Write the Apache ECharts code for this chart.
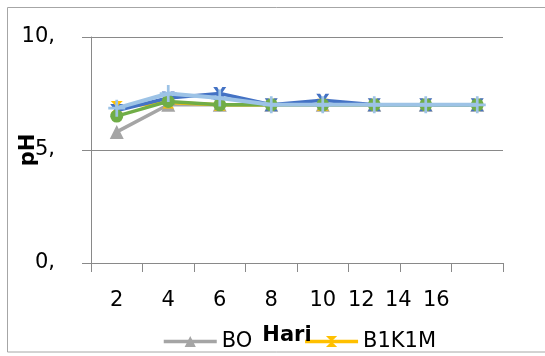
<!DOCTYPE html>
<html><head><meta charset="utf-8">
<script src="https://cdn.jsdelivr.net/npm/echarts@6/dist/echarts.min.js"></script>
<style>html,body{margin:0;padding:0;background:#fff;}#c{width:545px;height:356px;}</style>
</head><body><div id="c"></div>
<script>
const categories = ['2','4','6','8','10','12','14','16'];
const labelShift = [0,0,0,0,0,26,55,82];
const seriesNames = ['BO','B1K1M','B1K2M','B2K1M','B2K2M'];
const BO     = [5.8, 7.0, 7.0, 7.0, 7.0, 7.0, 7.0, 7.0];
const B1K1M  = [6.9, 7.1, 7.0, 7.0, 7.0, 7.0, 7.0, 7.0];
const B1K2M  = [6.75, 7.3, 7.5, 7.0, 7.2, 7.0, 7.0, 7.0];
const B2K1M  = [6.5, 7.15, 7.0, 7.0, 7.0, 7.0, 7.0, 7.0];
const B2K2M  = [6.85, 7.5, 7.3, 7.0, 7.0, 7.0, 7.0, 7.0];
const yTicks = [0, 5, 10];

const FONT = 'DejaVu Sans';
const hourglass = 'path://M0,0 L10,0 L5,5 L10,10 L0,10 L5,5 Z';
const xMark = 'path://M0,0 L3,0 L5,3.5 L7,0 L10,0 L6.5,5 L10,10 L7,10 L5,6.5 L3,10 L0,10 L3.5,5 Z';
const plus = 'path://M4.2,0 L5.8,0 L5.8,4.2 L10,4.2 L10,5.8 L5.8,5.8 L5.8,10 L4.2,10 L4.2,5.8 L0,5.8 L0,4.2 L4.2,4.2 Z';

function mk(name, data, color, symbol, size, width, z) {
  return { name, type: 'line', data, symbol, symbolSize: size, z,
    lineStyle: { color, width }, itemStyle: { color }, showSymbol: true, animation: false };
}

const chart = echarts.init(document.getElementById('c'), null, { renderer: 'canvas' });
chart.setOption({
  animation: false,
  graphic: [{ type: 'rect', shape: { x: 7.5, y: 7.5, width: 600, height: 344.5 },
    style: { fill: 'none', stroke: '#a6a6a6', lineWidth: 1 }, z: -1 }],
  grid: { left: 91, right: 42, top: 37, bottom: 93, containLabel: false, outerBoundsMode: 'none' },
  legend: {
    data: ['BO', 'B1K1M'], top: 326, left: 157, itemGap: 51, itemWidth: 53, itemHeight: 14,
    lineStyle: { width: 3.5 },
    textStyle: { fontFamily: FONT, fontSize: 21, color: '#000' }
  },
  xAxis: {
    type: 'category', boundaryGap: true, z: 10,
    data: categories.map((c, i) => ({ value: c, textStyle: { padding: [0, labelShift[i], 0, 0] } })),
    name: 'Hari', nameLocation: 'middle', nameGap: 62, nameMoveOverlap: false,
    nameTextStyle: { fontFamily: FONT, fontSize: 21, fontWeight: 'bold', color: '#000', padding: [0, 20, 0, 0] },
    axisLine: { lineStyle: { color: '#898989', width: 1 } },
    axisTick: { show: true, length: 9, alignWithLabel: false, lineStyle: { color: '#898989' } },
    axisLabel: { fontFamily: FONT, fontSize: 21, color: '#000', margin: 27, interval: 0 },
    splitLine: { show: false }
  },
  yAxis: {
    type: 'value', min: yTicks[0], max: yTicks[2], interval: 5,
    name: 'pH', nameLocation: 'middle', nameGap: 52, nameRotate: 90, nameMoveOverlap: false,
    nameTextStyle: { fontFamily: FONT, fontSize: 21, fontWeight: 'bold', color: '#000' },
    axisLine: { show: true, lineStyle: { color: '#898989', width: 1 } },
    axisTick: { show: true, length: 9, lineStyle: { color: '#898989' } },
    axisLabel: { fontFamily: FONT, fontSize: 21, color: '#000', margin: 36, formatter: v => v + ',' },
    splitLine: { lineStyle: { color: '#898989', width: 1 } }
  },
  series: [
    mk(seriesNames[0], BO, '#A5A5A5', 'triangle', 14, 3.5, 2),
    mk(seriesNames[1], B1K1M, '#FFC000', hourglass, 12, 3.5, 3),
    mk(seriesNames[2], B1K2M, '#4472C4', xMark, 13, 3.5, 4),
    mk(seriesNames[3], B2K1M, '#70AD47', 'circle', 13, 3.5, 5),
    mk(seriesNames[4], B2K2M, '#9DC3E6', plus, 17, 4, 6)
  ]
});
</script></body></html>
